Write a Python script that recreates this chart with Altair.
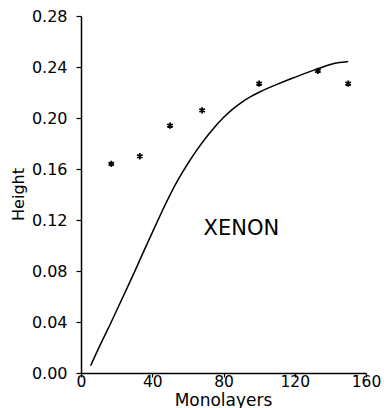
import altair as alt
import pandas as pd

# measured points (asterisks)
star_x = [17, 33, 50, 68, 100, 133, 150]
star_y = [0.164, 0.170, 0.194, 0.206, 0.227, 0.237, 0.227]

# model curve
curve_x = [5.4, 10, 15, 20, 25, 30, 35, 40, 45, 50, 55, 60, 65, 70, 75, 80,
           85, 90, 95, 100, 105, 110, 115, 120, 125, 130, 135, 140, 145, 150]
curve_y = [0.0057, 0.020, 0.034, 0.049, 0.064, 0.079, 0.095, 0.110, 0.1255,
           0.140, 0.153, 0.1645, 0.175, 0.1845, 0.193, 0.2005, 0.207, 0.2123,
           0.2167, 0.2203, 0.2235, 0.2264, 0.2292, 0.2319, 0.2346, 0.2372,
           0.2397, 0.2420, 0.2437, 0.2443]

x_ticks = [i * 10 for i in range(17)]
y_ticks = [round(i * 0.02, 2) for i in range(15)]

label_text = ["XENON"]
label_x = [90]
label_y = [0.113]

FONT = "DejaVu Sans"

stars = pd.DataFrame({"x": star_x, "y": star_y})
curve = pd.DataFrame({"x": curve_x, "y": curve_y})
labels = pd.DataFrame({"x": label_x, "y": label_y, "t": label_text})

xscale = alt.Scale(domain=[0, 160], nice=False, zero=False)
yscale = alt.Scale(domain=[0, 0.28], nice=False, zero=False)

xaxis = alt.Axis(
    title="Monolayers", values=x_ticks,
    labelExpr="datum.value % 40 == 0 ? datum.label : ''",
    format="d", grid=False, tickSize=4, labelPadding=-3,
    labelFont=FONT, labelFontSize=15.5, labelColor="black",
    titleFont=FONT, titleFontSize=17, titleFontWeight="normal", titleColor="black",
    titleBaseline="alphabetic", titleY=32, titleX=142,
    domainColor="black", domainWidth=1.5, tickColor="black", tickWidth=1.2,
    labelFlush=False, labelOverlap=False,
)
yaxis = alt.Axis(
    title="Height", values=y_ticks,
    labelExpr="round(datum.value * 100) % 4 == 0 ? format(datum.value, '.2f') : ''",
    grid=False, tickSize=5, labelPadding=9,
    labelFont=FONT, labelFontSize=16, labelColor="black",
    titleFont=FONT, titleFontSize=16, titleFontWeight="normal", titleColor="black",
    titleBaseline="middle", titleAlign="center", titleAngle=-90,
    titleX=-63, titleY=178,
    domainColor="black", domainWidth=1.5, tickColor="black", tickWidth=1.2,
    labelFlush=False, labelOverlap=False,
)

line = alt.Chart(curve).mark_line(color="black", strokeWidth=1.5, interpolate="basis").encode(
    x=alt.X("x:Q", scale=xscale, axis=xaxis),
    y=alt.Y("y:Q", scale=yscale, axis=yaxis),
)

star_path = "M0,-1L0,1M-0.87,-0.5L0.87,0.5M-0.87,0.5L0.87,-0.5"
pts = alt.Chart(stars).mark_point(
    shape=star_path, filled=False, color="black", strokeWidth=1.8, size=40, opacity=1
).encode(
    x=alt.X("x:Q", scale=xscale),
    y=alt.Y("y:Q", scale=yscale),
)

txt = alt.Chart(labels).mark_text(
    font=FONT, fontSize=21, color="black", align="center", baseline="middle"
).encode(
    x=alt.X("x:Q", scale=xscale),
    y=alt.Y("y:Q", scale=yscale),
    text="t:N",
)

chart = alt.layer(line, pts, txt).properties(
    width=285, height=357,
    autosize=alt.AutoSizeParams(type="none"),
    padding={"left": 81, "top": 16, "right": 18, "bottom": 35},
    background="white",
).configure_view(stroke=None)

chart.save("out.html", embed_options={"renderer": "svg", "actions": False})
